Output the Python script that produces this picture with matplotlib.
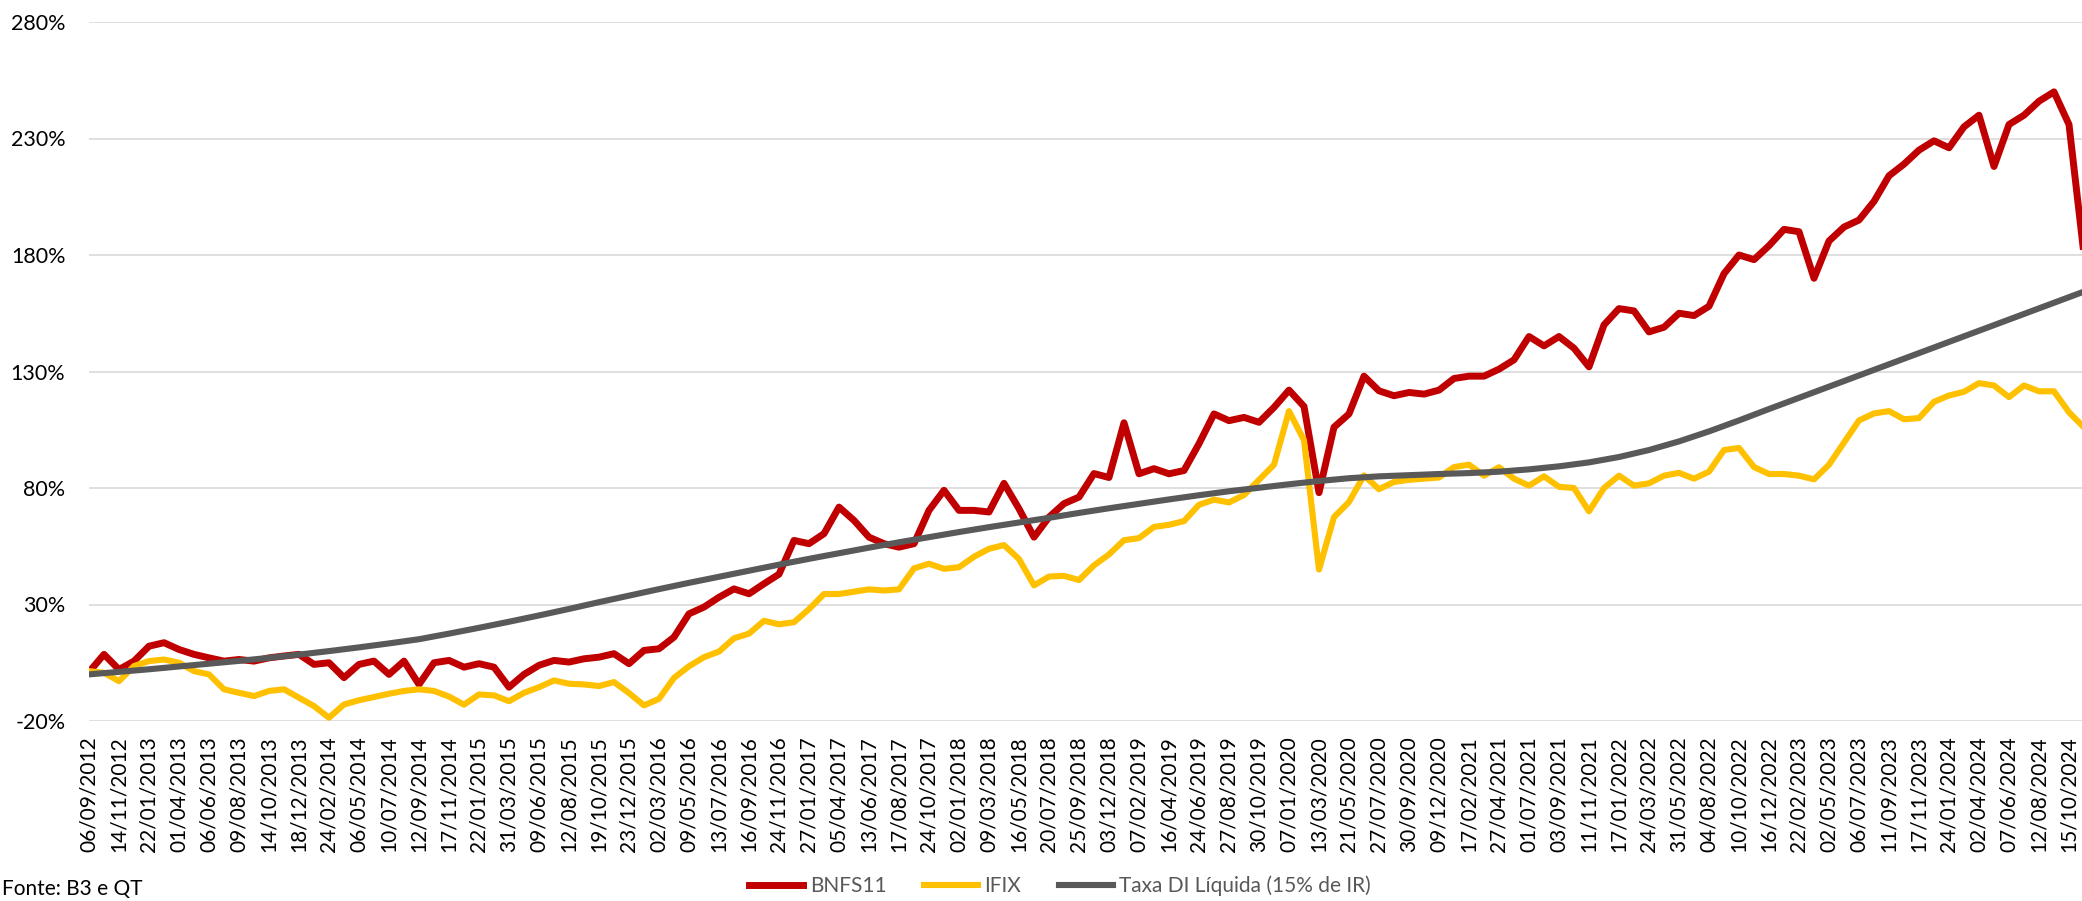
import matplotlib.pyplot as plt
import numpy as np

# dates shown on the x axis (one label every ~45 trading days)
labels = ['06/09/2012', '14/11/2012', '22/01/2013', '01/04/2013', '06/06/2013', '09/08/2013',
          '14/10/2013', '18/12/2013', '24/02/2014', '06/05/2014', '10/07/2014', '12/09/2014',
          '17/11/2014', '22/01/2015', '31/03/2015', '09/06/2015', '12/08/2015', '19/10/2015',
          '23/12/2015', '02/03/2016', '09/05/2016', '13/07/2016', '16/09/2016', '24/11/2016',
          '27/01/2017', '05/04/2017', '13/06/2017', '17/08/2017', '24/10/2017', '02/01/2018',
          '09/03/2018', '16/05/2018', '20/07/2018', '25/09/2018', '03/12/2018', '07/02/2019',
          '16/04/2019', '24/06/2019', '27/08/2019', '30/10/2019', '07/01/2020', '13/03/2020',
          '21/05/2020', '27/07/2020', '30/09/2020', '09/12/2020', '17/02/2021', '27/04/2021',
          '01/07/2021', '03/09/2021', '11/11/2021', '17/01/2022', '24/03/2022', '31/05/2022',
          '04/08/2022', '10/10/2022', '16/12/2022', '22/02/2023', '02/05/2023', '06/07/2023',
          '11/09/2023', '17/11/2023', '24/01/2024', '02/04/2024', '07/06/2024', '12/08/2024',
          '15/10/2024']

# cumulative return (%), two readings per label interval
bnfs = [1, 8.6, 2.1, 5.7, 12.1, 13.6, 10.7, 8.6, 7.1, 5.7,
        6.4, 5.7, 7.1, 7.9, 8.6, 4.3, 5.0, -1.4, 4.3, 5.7,
        0, 5.7, -4.3, 5.0, 6.0, 3.1, 4.6, 3.1, -5.5, 0.0,
        3.9, 6.0, 5.3, 6.7, 7.4, 8.9, 4.6, 10.3, 11.0, 16.0,
        26.0, 28.9, 33.1, 36.7, 34.6, 38.9, 43.0, 57.5, 56.1, 60.4,
        71.8, 66.1, 58.9, 56.1, 54.6, 56.1, 70.4, 79.0, 70.4, 70.4,
        69.7, 82.0, 71.1, 58.9, 67.5, 73.3, 76.1, 86.2, 84.5, 108.0,
        86.1, 88.3, 86.1, 87.5, 99.0, 111.8, 108.9, 110.3, 108.2, 114.6,
        122.0, 115.0, 78.0, 106.1, 111.8, 128.0, 121.7, 119.6, 121.0, 120.3,
        122.0, 127.0, 128.0, 128.0, 131.0, 135.0, 145.0, 141.0, 145.0, 140.0,
        132.0, 150.0, 157.0, 156.0, 147.0, 149.0, 155.0, 154.0, 158.0, 172.0,
        180.0, 178.0, 184.0, 191.0, 190.0, 170.0, 186.0, 192.0, 195.0, 203.0,
        214.0, 219.0, 225.0, 229.0, 226.0, 235.0, 240.0, 218.0, 236.0, 240.0,
        246.0, 250.0, 236.0, 180.0]

ifix = [1.4, 0.7, -2.9, 3.6, 5.7, 6.4, 5.0, 1.4, 0.0, -6.4,
        -7.9, -9.3, -7.1, -6.4, -10.0, -13.6, -18.6, -12.9, -11.1, -9.7,
        -8.3, -7.1, -6.4, -7.1, -9.5, -13.0, -8.6, -9.0, -11.5, -7.9,
        -5.5, -2.6, -4.0, -4.3, -5.0, -3.3, -8.0, -13.3, -10.5, -1.5,
        3.5, 7.4, 9.8, 15.5, 17.5, 23.0, 21.5, 22.4, 28.0, 34.5,
        34.5, 35.5, 36.5, 36.0, 36.5, 45.5, 47.5, 45.3, 46.0, 50.5,
        53.9, 55.5, 49.5, 38.2, 42.0, 42.3, 40.5, 46.8, 51.5, 57.6,
        58.5, 63.3, 64.2, 65.8, 72.8, 75.0, 73.8, 77.0, 83.5, 90.0,
        113.0, 100.5, 45.0, 67.5, 74.0, 85.4, 79.5, 82.6, 83.5, 84.0,
        84.5, 89.0, 90.0, 85.3, 88.9, 84.0, 81.0, 85.0, 80.5, 80.0,
        70.0, 80.0, 85.3, 81.0, 82.0, 85.3, 86.5, 84.0, 87.0, 96.3,
        97.2, 89.0, 86.0, 86.0, 85.3, 83.7, 90.0, 99.5, 109.0, 112.0,
        113.0, 109.5, 110.0, 117.0, 119.7, 121.3, 125.0, 124.0, 119.0, 124.0,
        121.5, 121.5, 112.5, 106.0]

# one reading per label
di = [0, 1.1, 2.2, 3.4, 4.6, 5.8, 7.1, 8.5, 10.0, 11.6,
      13.3, 15.1, 17.5, 20.0, 22.6, 25.3, 28.1, 31.0, 33.8, 36.6,
      39.3, 41.9, 44.5, 47.1, 49.6, 52.0, 54.4, 56.7, 58.9, 61.1,
      63.2, 65.2, 67.2, 69.3, 71.3, 73.2, 75.1, 76.9, 78.6, 80.1,
      81.6, 83.0, 84.2, 85.0, 85.5, 86.0, 86.4, 87.0, 88.0, 89.3,
      91.0, 93.3, 96.3, 100.0, 104.3, 109.0, 113.9, 118.7, 123.5, 128.3,
      133.1, 137.9, 142.7, 147.5, 152.3, 157.1, 161.9, 166.7]

plt.rcParams['font.family'] = ['Lato', 'DejaVu Sans']

W, H = 2082, 901
fig = plt.figure(figsize=(W / 100, H / 100), dpi=100)
ax = fig.add_axes([89 / W, 1 - 721 / H, 1 - 89 / W, (721 - 22) / H])

ax.plot(np.arange(len(bnfs)) / 2, bnfs, color='#C00000', lw=5.0, zorder=2,
        solid_joinstyle='round', label='BNFS11')
ax.plot(np.arange(len(ifix)) / 2, ifix, color='#FFC000', lw=4.4, zorder=3,
        solid_joinstyle='round', label='IFIX')
ax.plot(np.arange(len(di)), di, color='#595959', lw=4.4, zorder=4,
        label='Taxa DI Líquida (15% de IR)')

ax.set_xlim(0, (W - 89) / 30)
ax.set_ylim(-20, 280)
yt = list(range(-20, 281, 50))
ax.set_yticks(yt)
ax.set_yticklabels([f'{v}%' for v in yt])
ax.set_xticks(np.arange(len(labels)))
ax.set_xticklabels(labels, rotation=90)

ax.grid(axis='y', color='#D9D9D9', lw=1.2)
ax.set_axisbelow(True)
for s in ax.spines.values():
    s.set_visible(False)
ax.tick_params(axis='y', length=0, labelsize=15.5, pad=17)
ax.tick_params(axis='x', length=0, labelsize=15, pad=11)

fig.legend(loc='center', bbox_to_anchor=(1060 / W, 1 - 886 / H), ncol=3, frameon=False,
           fontsize=15, labelcolor='#595959', handlelength=2.6, handletextpad=0.3,
           columnspacing=1.8)

fig.text(2 / W, 2 / H, 'Fonte: B3 e QT', fontsize=15, va='bottom', ha='left')

fig.savefig('out.png', dpi=100)
